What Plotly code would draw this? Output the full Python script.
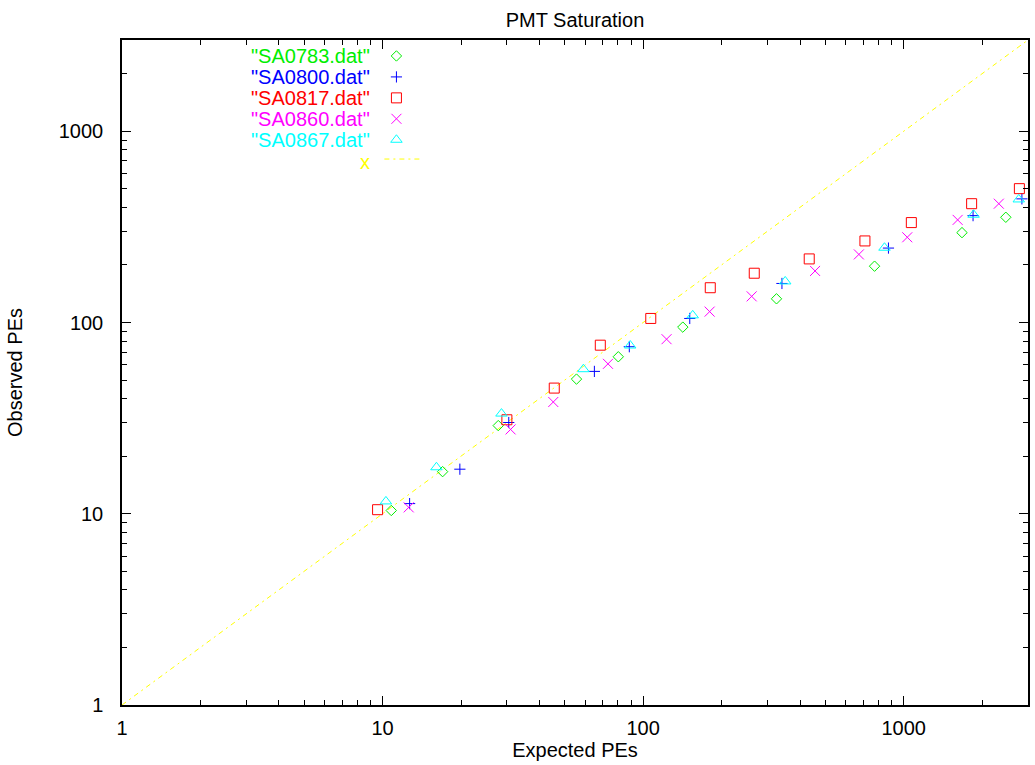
import plotly.graph_objects as go

# ---- data ----
sa0783_x = [10.8, 17.0, 27.8, 55.5, 80.3, 142, 325, 773, 1674, 2466]
sa0783_y = [10.4, 16.6, 28.9, 50.6, 66.2, 94.6, 133, 197, 295, 355]

sa0800_x = [12.7, 19.8, 30.5, 65.0, 88.5, 151, 341, 874, 1846, 2843]
sa0800_y = [11.3, 17.1, 30.0, 55.5, 74.7, 105, 160, 245, 362, 443]

sa0817_x = [9.57, 30.0, 45.6, 68.5, 107, 181, 267, 434, 710, 1070, 1823, 2780]
sa0817_y = [10.5, 31.0, 45.4, 76.1, 105, 152, 181, 215, 267, 333, 418, 501]

sa0860_x = [12.6, 31.0, 45.2, 73.3, 123, 180, 261, 457, 673, 1032, 1611, 2318]
sa0860_y = [10.8, 27.6, 38.4, 60.8, 81.8, 114, 137, 186, 227, 279, 344, 418]

sa0867_x = [10.3, 16.1, 28.6, 59.0, 89.2, 155, 351, 844, 1855, 2765]
sa0867_y = [11.6, 17.5, 33.4, 57.0, 75.8, 109, 164, 246, 366, 440]

diag_x = [1, 3000]
diag_y = [1, 3000]

names = ['"SA0783.dat"', '"SA0800.dat"', '"SA0817.dat"', '"SA0860.dat"', '"SA0867.dat"']
colors = ["#00ee00", "#0000ff", "#ff0000", "#ff00ff", "#00ffff"]
symbols = ["diamond-open", "cross-thin-open", "square-open", "x-thin-open", "triangle-up-open"]
sizes = [8, 8, 10, 10, 10]
xs = [sa0783_x, sa0800_x, sa0817_x, sa0860_x, sa0867_x]
ys = [sa0783_y, sa0800_y, sa0817_y, sa0860_y, sa0867_y]

major_vals = [1, 10, 100, 1000]
major_text = ["1", "10", "100", "1000"]
minor_vals = [m * d for d in [1, 10, 100] for m in range(2, 10)] + [2000]

FONT = "Liberation Sans, Arial, sans-serif"
DIAG_COLOR = "#ffff00"

fig = go.Figure()

fig.add_trace(go.Scatter(x=diag_x, y=diag_y, mode="lines",
                         line=dict(color=DIAG_COLOR, width=1, dash="5px,4px,2px,4px"),
                         showlegend=False, hoverinfo="skip"))

for xv, yv, c, s, sz in zip(xs, ys, colors, symbols, sizes):
    fig.add_trace(go.Scatter(x=xv, y=yv, mode="markers",
                             marker=dict(symbol=s, size=sz, color=c,
                                         line=dict(color=c, width=1)),
                             showlegend=False, cliponaxis=True))

# ---- custom gnuplot-style key (text left, sample right) ----
key_text_x = 0.2753
key_sym_x = 0.3029
key_top = 0.976
key_step = 0.0315
for i, (n, c, s, sz) in enumerate(zip(names, colors, symbols, sizes)):
    yk = key_top - i * key_step
    fig.add_annotation(xref="paper", yref="paper", x=key_text_x, y=yk,
                       text=n, showarrow=False, xanchor="right", yanchor="middle",
                       font=dict(family=FONT, size=20, color=c), borderpad=0)
    fig.add_trace(go.Scatter(x=[key_sym_x], y=[yk], xaxis="x2", yaxis="y2",
                             mode="markers",
                             marker=dict(symbol=s, size=sz, color=c,
                                         line=dict(color=c, width=1)),
                             showlegend=False, hoverinfo="skip"))
yk = key_top - 5 * key_step - 0.0025
fig.add_annotation(xref="paper", yref="paper", x=key_text_x, y=yk,
                   text="x", showarrow=False, xanchor="right", yanchor="middle",
                   font=dict(family=FONT, size=20, color=DIAG_COLOR), borderpad=0)
fig.add_shape(type="line", xref="paper", yref="paper",
              x0=0.2896, x1=0.3304, y0=yk + 0.005, y1=yk + 0.005,
              line=dict(color=DIAG_COLOR, width=1, dash="5px,4px,2px,4px"))

axis_common = dict(
    type="log", showgrid=False, zeroline=False,
    showline=True, linecolor="black", linewidth=1.5, mirror="ticks",
    ticks="inside", ticklen=9, tickwidth=1, tickcolor="black",
    tickmode="array", tickvals=major_vals, ticktext=major_text,
    minor=dict(tickvals=minor_vals, ticks="inside", ticklen=5,
               tickwidth=1, tickcolor="black", showgrid=False),
    tickfont=dict(family=FONT, size=20, color="black"),
)

fig.update_layout(
    width=1035, height=765,
    margin=dict(l=122, r=5, t=40, b=60),
    paper_bgcolor="white", plot_bgcolor="white",
    font=dict(family=FONT, size=20, color="black"),
    title=dict(text="PMT Saturation", x=0.5, xref="paper", xanchor="center",
               y=1 - 19.5 / 765, yref="container", yanchor="middle",
               font=dict(family=FONT, size=20, color="black")),
    xaxis=dict(range=[0, 3.4771], ticklabelstandoff=4,
               title=dict(text="Expected PEs", standoff=0,
                          font=dict(family=FONT, size=20)), **axis_common),
    yaxis=dict(range=[0, 3.4771], ticklabelstandoff=13,
               title=dict(text="Observed PEs", standoff=31,
                          font=dict(family=FONT, size=20)), **axis_common),
    xaxis2=dict(overlaying="x", range=[0, 1], visible=False),
    yaxis2=dict(overlaying="y", range=[0, 1], visible=False),
)

fig.write_html("out.html")
